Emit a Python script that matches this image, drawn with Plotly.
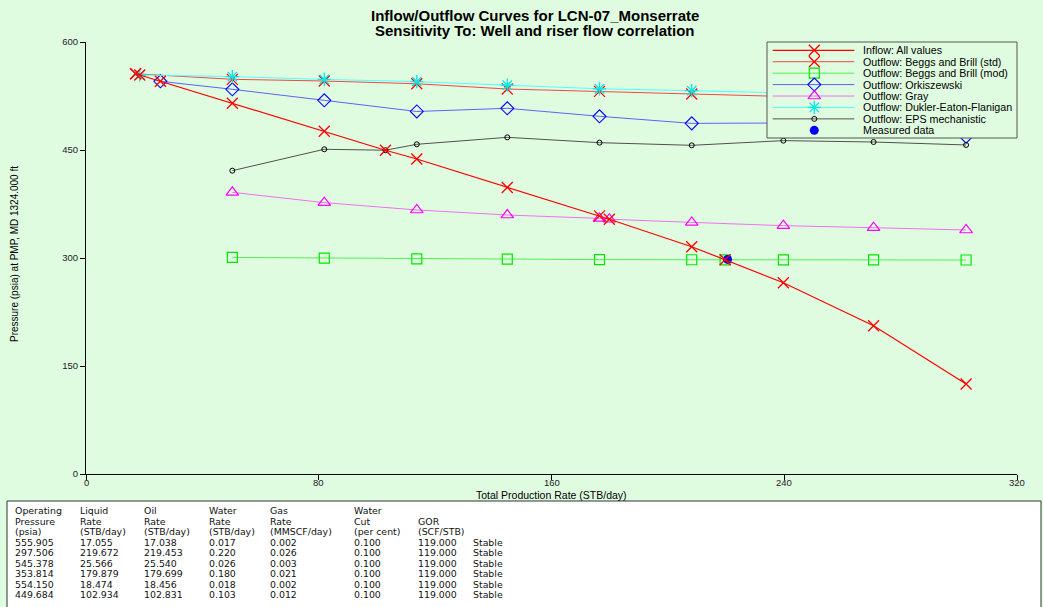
import plotly.graph_objects as go

# ---------------- data ----------------
inflow_rate = [17.055, 18.474, 25.566, 50.3, 81.9, 102.934, 113.7, 144.8, 176.5, 179.879, 208.2, 219.672, 239.7, 270.7, 302.5]
inflow_p = [555.905, 554.150, 545.378, 515.0, 476.0, 449.684, 437.5, 398.0, 358.5, 353.814, 315.7, 297.506, 265.7, 206.0, 125.0]

bb_std_rate = [17.055, 50.3, 81.9, 113.7, 144.8, 176.5, 208.2, 239.7, 270.7, 302.5]
bb_std_p = [555.905, 548.2, 545.8, 542.0, 534.7, 531.5, 527.8, 524.5, 521.0, 517.5]

bb_mod_rate = [50.3, 81.9, 113.7, 144.8, 176.5, 208.2, 219.672, 239.7, 270.7, 302.5]
bb_mod_p = [300.8, 299.8, 298.8, 298.4, 297.8, 297.6, 297.506, 297.4, 297.3, 297.2]

ork_rate = [25.566, 50.3, 81.9, 113.7, 144.8, 176.5, 208.2, 239.7, 270.7, 302.5]
ork_p = [545.378, 534.3, 519.0, 503.5, 507.9, 496.8, 487.0, 487.5, 485.0, 468.5]

gray_rate = [50.3, 81.9, 113.7, 144.8, 176.5, 179.879, 208.2, 239.7, 270.7, 302.5]
gray_p = [391.2, 376.9, 366.7, 359.7, 355.0, 353.814, 349.5, 344.9, 342.1, 338.9]

def_rate = [18.474, 50.3, 81.9, 113.7, 144.8, 176.5, 208.2, 239.7, 270.7, 302.5]
def_p = [554.150, 552.0, 548.0, 545.0, 540.0, 535.0, 532.4, 529.0, 526.0, 523.0]

eps_rate = [50.3, 81.9, 102.934, 113.7, 144.8, 176.5, 208.2, 239.7, 270.7, 302.5]
eps_p = [421.3, 451.0, 449.684, 457.9, 467.6, 460.2, 456.5, 463.0, 461.1, 457.0]

measured_rate = [220.5]
measured_p = [298.0]

series_names = ["Inflow: All values", "Outflow: Beggs and Brill (std)", "Outflow: Beggs and Brill (mod)",
                "Outflow: Orkiszewski", "Outflow: Gray", "Outflow: Dukler-Eaton-Flanigan",
                "Outflow: EPS mechanistic", "Measured data"]

x_ticks = [0, 80, 160, 240, 320]
y_ticks = [0, 150, 300, 450, 600]

title_lines = ["Inflow/Outflow Curves for LCN-07_Monserrate", "Sensitivity To: Well and riser flow correlation"]
x_title = "Total Production Rate (STB/day)"
y_title = "Pressure (psia) at PMP, MD 1324.000 ft"

table_headers = [["Operating", "Pressure", "(psia)"], ["Liquid", "Rate", "(STB/day)"], ["Oil", "Rate", "(STB/day)"],
                 ["Water", "Rate", "(STB/day)"], ["Gas", "Rate", "(MMSCF/day)"], ["Water", "Cut", "(per cent)"],
                 ["", "GOR", "(SCF/STB)"], ["", "", ""]]
op_pressure = ["555.905", "297.506", "545.378", "353.814", "554.150", "449.684"]
liquid_rate = ["17.055", "219.672", "25.566", "179.879", "18.474", "102.934"]
oil_rate = ["17.038", "219.453", "25.540", "179.699", "18.456", "102.831"]
water_rate = ["0.017", "0.220", "0.026", "0.180", "0.018", "0.103"]
gas_rate = ["0.002", "0.026", "0.003", "0.021", "0.002", "0.012"]
water_cut = ["0.100", "0.100", "0.100", "0.100", "0.100", "0.100"]
gor = ["119.000", "119.000", "119.000", "119.000", "119.000", "119.000"]
status = ["Stable", "Stable", "Stable", "Stable", "Stable", "Stable"]

# ---------------- styles ----------------
BG = "#E0FCE0"
FONT = "Liberation Sans, Arial, sans-serif"
W, H = 1043, 607
L, R, T, B = 86, 26, 42, 133
PW, PH = W - L - R, H - T - B

def px_x(p):
    return (p - L) / PW

def px_y(p):
    return (H - B - p) / PH

styles = [
    dict(lc="#FF0000", lw=1.2, sym="x-thin-open", ms=11, mc="#FF0000", mw=1.3),
    dict(lc="#F04848", lw=1.0, sym="x-thin-open", ms=11, mc="#FF0000", mw=1.2),
    dict(lc="#50F050", lw=1.0, sym="square-open", ms=10, mc="#00E600", mw=1.2),
    dict(lc="#6060FF", lw=1.0, sym="diamond-open", ms=10, mc="#0000FF", mw=1.1),
    dict(lc="#F070F0", lw=1.0, sym="triangle-up-open", ms=11, mc="#FF00FF", mw=1.2),
    dict(lc="#50FFFF", lw=1.0, sym="asterisk-open", ms=11, mc="#00E8E8", mw=1.3),
    dict(lc="#505050", lw=1.0, sym="circle-open", ms=5, mc="#000000", mw=1.0),
    dict(lc=None, lw=0, sym="circle", ms=9, mc="#0000FF", mw=0),
]
series_data = [(inflow_rate, inflow_p), (bb_std_rate, bb_std_p), (bb_mod_rate, bb_mod_p), (ork_rate, ork_p),
               (gray_rate, gray_p), (def_rate, def_p), (eps_rate, eps_p), (measured_rate, measured_p)]

fig = go.Figure()

draw_order = [1, 2, 3, 4, 5, 6, 7, 0]
for i in draw_order:
    xs, ys = series_data[i]
    s = styles[i]
    if s["lc"] is None:
        fig.add_trace(go.Scatter(x=xs, y=ys, mode="markers", name=series_names[i], showlegend=False,
                                 marker=dict(symbol=s["sym"], size=s["ms"], color=s["mc"])))
    else:
        fig.add_trace(go.Scatter(x=xs, y=ys, mode="lines+markers", name=series_names[i], showlegend=False,
                                 line=dict(color=s["lc"], width=s["lw"]),
                                 marker=dict(symbol=s["sym"], size=s["ms"], color=s["mc"],
                                             line=dict(color=s["mc"], width=s["mw"]))))

# ---------------- custom legend (inset axes) ----------------
row0, row_step = 8.3, 11.43
for i, name in enumerate(series_names):
    s = styles[i]
    ry = row0 + i * row_step
    if s["lc"] is not None:
        fig.add_trace(go.Scatter(x=[5.7, 87.3], y=[ry, ry], mode="lines", xaxis="x2", yaxis="y2",
                                 showlegend=False, hoverinfo="skip",
                                 line=dict(color=s["lc"], width=s["lw"])))
        fig.add_trace(go.Scatter(x=[47.3], y=[ry], mode="markers", xaxis="x2", yaxis="y2",
                                 showlegend=False, hoverinfo="skip",
                                 marker=dict(symbol=s["sym"], size=s["ms"], color=s["mc"],
                                             line=dict(color=s["mc"], width=s["mw"]))))
    else:
        fig.add_trace(go.Scatter(x=[47.3], y=[ry], mode="markers", xaxis="x2", yaxis="y2",
                                 showlegend=False, hoverinfo="skip",
                                 marker=dict(symbol=s["sym"], size=s["ms"], color=s["mc"])))

annotations = []
for i, name in enumerate(series_names):
    annotations.append(dict(x=94.0, y=row0 + i * row_step, xref="x2", yref="y2", text=name, showarrow=False,
                            xanchor="left", yanchor="middle", font=dict(family=FONT, size=10.7, color="#000")))

# titles
annotations.append(dict(x=px_x(535), y=px_y(15.3), xref="paper", yref="paper", text="<b>%s</b>" % title_lines[0],
                        showarrow=False, xanchor="center", yanchor="middle", font=dict(family=FONT, size=15, color="#000")))
annotations.append(dict(x=px_x(535), y=px_y(30.5), xref="paper", yref="paper", text="<b>%s</b>" % title_lines[1],
                        showarrow=False, xanchor="center", yanchor="middle", font=dict(family=FONT, size=15, color="#000")))
annotations.append(dict(x=0.5, y=px_y(494.5), xref="paper", yref="paper", text=x_title, showarrow=False,
                        xanchor="center", yanchor="middle", font=dict(family=FONT, size=10.5, color="#000")))
annotations.append(dict(x=px_x(15), y=px_y(254), xref="paper", yref="paper", text=y_title, showarrow=False,
                        textangle=-90, xanchor="center", yanchor="middle", font=dict(family=FONT, size=10, color="#000")))

# x tick labels (placed close to the axis, as in the reference)
for v in x_ticks:
    annotations.append(dict(x=v, y=px_y(483), xref="x", yref="paper", text=str(v), showarrow=False,
                            xanchor="center", yanchor="middle", font=dict(family=FONT, size=9.5, color="#222")))

# table
col_x = [12.5, 77.5, 142, 206.5, 268, 351.5, 415.5, 470.5]
columns = [op_pressure, liquid_rate, oil_rate, water_rate, gas_rate, water_cut, gor, status]
TFONT = dict(family="DejaVu Sans, Verdana, sans-serif", size=9.4, color="#111")
for c in range(len(columns)):
    cells = table_headers[c] + columns[c]
    for r, txt in enumerate(cells):
        if txt == "":
            continue
        annotations.append(dict(x=px_x(col_x[c]), y=px_y(510.5 + r * 10.5), xref="paper", yref="paper",
                                text=txt, showarrow=False, xanchor="left", yanchor="middle", font=TFONT))

shapes = [
    dict(type="rect", xref="paper", yref="paper", x0=px_x(7), x1=px_x(1041), y0=px_y(615), y1=px_y(501),
         fillcolor="#FFFFFF", line=dict(color="#333", width=1), layer="below"),
    dict(type="rect", xref="x2 domain", yref="y2 domain", x0=0, x1=1, y0=0, y1=1,
         line=dict(color="#555", width=1), layer="above"),
]

axis_common = dict(showgrid=False, zeroline=False, showline=True, linecolor="#000", linewidth=1,
                   ticks="outside", ticklen=5, tickcolor="#000", tickwidth=1,
                   tickfont=dict(family=FONT, size=9.5, color="#222"), fixedrange=True)

fig.update_layout(
    width=W, height=H,
    margin=dict(l=L, r=R, t=T, b=B, pad=0),
    paper_bgcolor=BG, plot_bgcolor=BG,
    showlegend=False,
    xaxis=dict(range=[0, 320], tickvals=x_ticks, domain=[0, 1], showticklabels=False, **axis_common),
    yaxis=dict(range=[0, 600], tickvals=y_ticks, domain=[0, 1], **axis_common),
    xaxis2=dict(domain=[px_x(767), 1.0], range=[0, 250], visible=False, anchor="y2", fixedrange=True),
    yaxis2=dict(domain=[px_y(138), 1.0], range=[96, 0], visible=False, anchor="x2", fixedrange=True),
    annotations=annotations,
    shapes=shapes,
)

fig.write_html("out.html")
